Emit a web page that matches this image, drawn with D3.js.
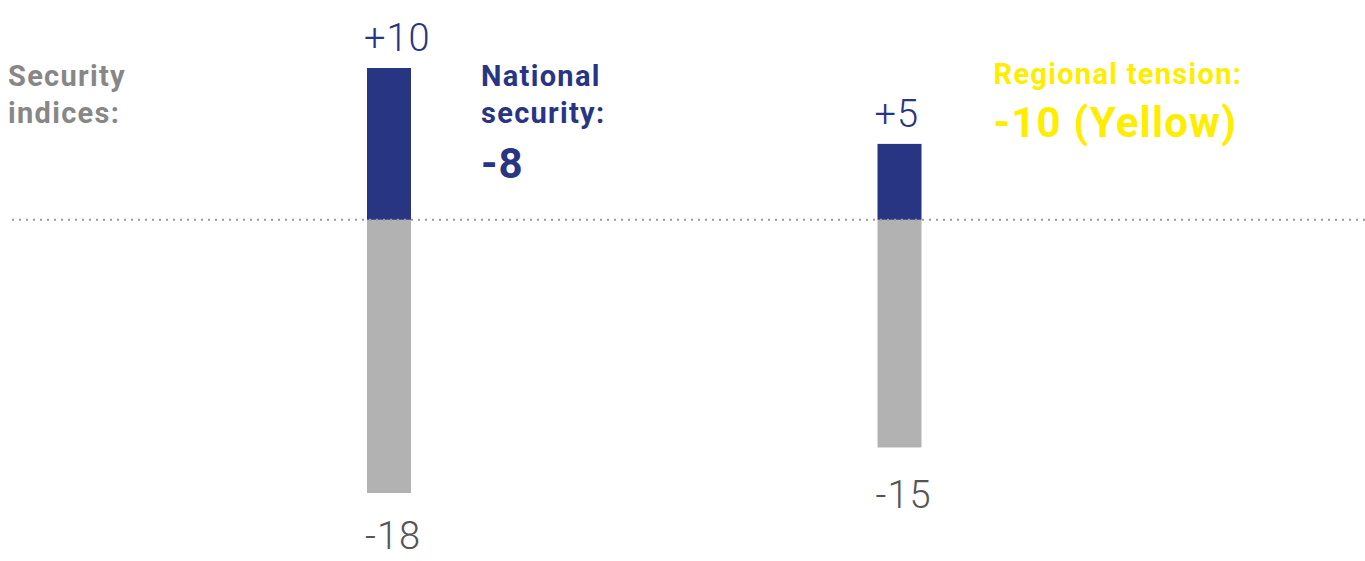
<!DOCTYPE html>
<html>
<head>
<meta charset="utf-8">
<script src="https://cdn.jsdelivr.net/npm/d3@7"></script>
<style>
  body { margin: 0; background: #fff; }
  svg { display: block; font-family: Roboto, "DejaVu Sans", sans-serif; }
</style>
</head>
<body>
<svg id="chart" width="1365" height="561"></svg>
<script>
var categories = ['National security', 'Regional tension'];
var positives = [10, 5];
var negatives = [-18, -15];
var posLabels = ['+10', '+5'];
var negLabels = ['-18', '-15'];

var W = 1365, H = 561;
var navy = '#283583', grey = '#b2b2b2', yellow = '#ffed00';

var svg = d3.select('#chart');

var x = d3.scalePoint().domain(categories).range([389, 899.5]);
var y = d3.scaleLinear().domain([-18, 10]).range([493, 68]);
var bw = 44;

// negative part
svg.selectAll('rect.neg')
  .data(categories)
  .enter().append('rect')
  .attr('class', 'neg')
  .attr('x', function(d) { return x(d) - bw / 2; })
  .attr('y', y(0))
  .attr('width', bw)
  .attr('height', function(d, i) { return y(negatives[i]) - y(0); })
  .attr('fill', grey);

// positive part
svg.selectAll('rect.pos')
  .data(categories)
  .enter().append('rect')
  .attr('class', 'pos')
  .attr('x', function(d) { return x(d) - bw / 2; })
  .attr('y', function(d, i) { return y(positives[i]); })
  .attr('width', bw)
  .attr('height', function(d, i) { return y(0) - y(positives[i]); })
  .attr('fill', navy);

// zero line
svg.append('line')
  .attr('x1', 12).attr('x2', W)
  .attr('y1', y(0)).attr('y2', y(0))
  .attr('stroke', '#9a9a9a')
  .attr('stroke-width', 2)
  .attr('stroke-dasharray', '2,5');

// value labels, left aligned with the bar
svg.selectAll('text.pl')
  .data(categories)
  .enter().append('text')
  .attr('class', 'pl')
  .attr('x', function(d) { return x(d) - bw / 2 - 3; })
  .attr('y', function(d, i) { return y(positives[i]) - 17; })
  .attr('font-size', 38)
  .attr('font-weight', 300)
  .attr('letter-spacing', 1)
  .attr('fill', navy)
  .text(function(d, i) { return posLabels[i]; });

svg.selectAll('text.nl')
  .data(categories)
  .enter().append('text')
  .attr('class', 'nl')
  .attr('x', function(d) { return x(d) - bw / 2 - 2; })
  .attr('y', function(d, i) { return Math.min(y(negatives[i]) + 61, H - 12); })
  .attr('font-size', 38)
  .attr('font-weight', 300)
  .attr('letter-spacing', 1)
  .attr('fill', '#555')
  .text(function(d, i) { return negLabels[i]; });

// annotations
function lines(xp, ys, txt, size, color, ls) {
  var t = svg.append('text')
    .attr('font-weight', 700)
    .attr('font-size', size)
    .attr('letter-spacing', ls)
    .attr('fill', color);
  txt.forEach(function(s, i) {
    t.append('tspan').attr('x', xp).attr('y', ys[i]).text(s);
  });
}
lines(8, [86, 123], ['Security', 'indices:'], 29, '#878787', 1.3);
lines(x(categories[0]) + 92, [86, 123], ['National', 'security:'], 29, navy, 1.3);
lines(x(categories[0]) + 92, [178], ['-8'], 42, navy, 1);
lines(x(categories[1]) + 94, [84], ['Regional tension:'], 29, yellow, 1.3);
lines(x(categories[1]) + 94, [137], ['-10 (Yellow)'], 42, yellow, 1.2);
</script>
</body>
</html>
